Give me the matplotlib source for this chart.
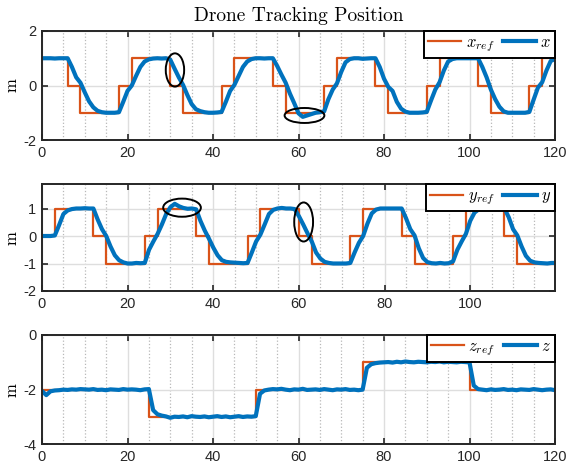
import numpy as np
import matplotlib
matplotlib.use("Agg")
import matplotlib.pyplot as plt
from matplotlib.patches import Ellipse

plt.rcParams['mathtext.fontset'] = 'cm'
plt.rcParams['font.family'] = ['Liberation Sans', 'DejaVu Sans']
plt.rcParams['axes.unicode_minus'] = False

# --- data ---
t = np.arange(0, 121)

# reference steps (time of change, level after it)
x_ref_t = [0, 6, 9, 18, 21, 30, 33, 42, 45, 54, 57, 66, 69, 78, 81, 90, 93, 102, 105, 114, 117, 120]
x_ref_v = [1, 0, -1, 0, 1, 0, -1, 0, 1, 0, -1, 0, 1, 0, -1, 0, 1, 0, -1, 0, 1, 1]

y_ref_t = [0, 3, 12, 15, 24, 27, 36, 39, 48, 51, 60, 63, 72, 75, 84, 87, 96, 99, 108, 111, 120]
y_ref_v = [0, 1, 0, -1, 0, 1, 0, -1, 0, 1, 0, -1, 0, 1, 0, -1, 0, 1, 0, -1, -1]

z_ref_t = [0, 25, 50, 75, 100, 120]
z_ref_v = [-2, -3, -2, -1, -2, -2]

# tracked positions, one value per second
x_pos = [1.0, 1.0, 1.0, 0.99, 1.0, 1.0, 1.0, 0.68, 0.3, 0.1,
         -0.25, -0.58, -0.8, -0.93, -0.98, -1.0, -1.0, -1.0, -0.98, -0.6,
         -0.2, 0.0, 0.35, 0.68, 0.88, 0.96, 0.99, 1.0, 0.99, 1.0,
         0.95, 0.62, 0.3, 0.02, -0.35, -0.68, -0.87, -0.94, -0.98, -1.0,
         -1.0, -0.99, -0.97, -0.6, -0.2, 0.02, 0.35, 0.68, 0.88, 0.97,
         1.0, 1.0, 0.99, 1.0, 1.0, 0.72, 0.4, 0.1, -0.3, -0.65,
         -1.02, -1.15, -1.1, -1.05, -1.0, -0.98, -0.95, -0.5, -0.15, 0.08,
         0.5, 0.85, 0.97, 1.0, 1.0, 0.98, 0.99, 1.0, 1.0, 0.68,
         0.25, -0.05, -0.2, -0.6, -0.85, -0.96, -1.0, -1.0, -1.0, -0.99,
         -0.97, -0.55, -0.15, 0.12, 0.55, 0.88, 0.97, 1.0, 1.0, 1.0,
         1.0, 1.0, 1.0, 0.68, 0.3, -0.15, -0.5, -0.78, -0.95, -1.0,
         -1.0, -1.0, -1.0, -1.0, -0.97, -0.52, -0.08, 0.12, 0.55, 0.9,
         0.97]

y_pos = [0.0, 0.0, 0.0, 0.02, 0.4, 0.8, 0.93, 0.98, 1.0, 1.0,
         1.01, 1.0, 1.0, 0.6, 0.25, 0.0, -0.38, -0.7, -0.88, -0.96,
         -1.0, -1.0, -0.98, -0.99, -0.98, -0.5, -0.2, 0.08, 0.42, 0.8,
         1.05, 1.17, 1.08, 1.02, 0.99, 1.0, 0.97, 0.55, 0.2, -0.1,
         -0.42, -0.7, -0.88, -0.94, -0.96, -0.97, -0.98, -0.99, -0.98, -0.6,
         -0.2, 0.05, 0.42, 0.8, 0.95, 1.0, 1.02, 1.0, 1.0, 0.98,
         0.72, 0.42, 0.1, -0.2, -0.6, -0.82, -0.94, -0.98, -1.0, -1.0,
         -1.0, -1.0, -0.98, -0.6, -0.25, 0.0, 0.45, 0.82, 0.96, 1.0,
         1.0, 1.0, 1.0, 1.0, 1.0, 0.65, 0.25, 0.02, -0.45, -0.8,
         -0.95, -0.99, -1.0, -0.98, -1.0, -0.99, -0.92, -0.5, -0.2, 0.08,
         0.55, 0.85, 0.97, 1.0, 1.0, 1.0, 1.0, 1.0, 1.0, 0.68,
         0.25, 0.02, -0.38, -0.72, -0.9, -0.96, -0.98, -0.99, -1.0, -0.98,
         -0.98]

z_pos = [-2.05, -2.2, -2.06, -2.03, -2.02, -2.0, -2.01, -1.99, -2.0, -1.98,
         -1.99, -2.0, -1.98, -2.01, -2.0, -2.02, -1.99, -2.0, -2.01, -1.98,
         -2.0, -1.99, -2.0, -2.02, -1.99, -1.98, -2.75, -2.9, -2.95, -2.98,
         -3.03, -2.99, -3.0, -2.98, -3.01, -2.97, -2.99, -3.0, -2.98, -3.01,
         -2.99, -2.97, -3.0, -2.98, -3.01, -2.99, -2.97, -3.0, -2.98, -2.99,
         -2.97, -2.15, -2.03, -2.0, -1.98, -1.99, -1.97, -2.0, -2.02, -1.99,
         -2.0, -1.97, -2.01, -2.0, -1.99, -2.01, -1.98, -2.0, -2.02, -1.99,
         -2.0, -1.98, -2.01, -2.0, -2.02, -2.0, -1.2, -1.07, -1.03, -1.01,
         -1.0, -0.99, -1.01, -0.98, -1.0, -0.97, -0.99, -1.0, -0.98, -0.99,
         -1.0, -0.98, -0.99, -0.97, -1.0, -0.98, -0.99, -1.0, -0.98, -0.99,
         -1.0, -1.85, -1.98, -2.0, -2.02, -1.99, -2.01, -2.0, -1.98, -2.01,
         -2.0, -2.02, -1.99, -2.0, -2.01, -1.98, -2.0, -2.02, -2.0, -1.99,
         -2.02]

# highlighted spots: (center x, center y, width, height)
ell_x = [(31.1, 0.57, 4.3, 1.22), (61.4, -1.1, 9.3, 0.55)]
ell_y = [(32.7, 1.03, 8.8, 0.66), (61.1, 0.51, 4.4, 1.42)]

x_ticks_full = [0, 20, 40, 60, 80, 100, 120]
x_ticks_short = [0, 20, 40, 60, 80, 100]

orange = '#D95319'
blue = '#0072BD'

fig = plt.figure(figsize=(5.67, 4.71), dpi=100)
W, H = 567.0, 471.0
boxes = [(42, 31, 555, 140), (42, 184.3, 555, 291), (42, 335, 555, 444.3)]

panels = [
    (x_ref_t, x_ref_v, x_pos, r'$x_{ref}$', r'$x$', (-2, 2), [-2, 0, 2], 120, x_ticks_full, ell_x),
    (y_ref_t, y_ref_v, y_pos, r'$y_{ref}$', r'$y$', (-2, 1.88), [-2, -1, 0, 1], 119.8, x_ticks_short, ell_y),
    (z_ref_t, z_ref_v, z_pos, r'$z_{ref}$', r'$z$', (-4, 0), [-4, -2, 0], 120, x_ticks_full, []),
]

axes = []
for (l, tp, r, b), (rt, rv, pos, lab_r, lab, ylim, yt, xmax, xt, ells) in zip(boxes, panels):
    ax = fig.add_axes([l / W, 1 - b / H, (r - l) / W, (b - tp) / H])
    ax.step(rt, rv, where='post', color=orange, lw=1.6, label=lab_r)
    ax.plot(t, pos, color=blue, lw=3.0, label=lab)
    for cx, cy, ew, eh in ells:
        ax.add_patch(Ellipse((cx, cy), ew, eh, fill=False, ec='black', lw=1.4, zorder=5))

    ax.set_xlim(0, xmax)
    ax.set_ylim(*ylim)
    ax.set_xticks(xt)
    ax.set_xticks([m for m in range(5, 120, 5) if m % 20], minor=True)
    ax.set_yticks(yt)
    ax.set_axisbelow(True)
    ax.grid(which='major', color='#dedede', lw=1.0, ls='-')
    ax.grid(which='minor', axis='x', color='#b8b8b8', lw=0.9, ls=':')
    ax.tick_params(which='major', direction='in', top=True, right=True,
                   length=4, width=1.2, labelsize=10.5, colors='#262626', pad=4)
    ax.tick_params(which='minor', length=0)
    for s in ax.spines.values():
        s.set_linewidth(1.4)
        s.set_color('#262626')
    ax.set_ylabel('m', fontfamily='cmr10', fontsize=12, labelpad=3)

    leg = ax.legend(loc='upper right', ncol=2, borderaxespad=0, fontsize=12,
                    handlelength=2.0, handletextpad=0.25, columnspacing=0.5,
                    fancybox=False, framealpha=1, edgecolor='black',
                    borderpad=0.25)
    leg.get_frame().set_linewidth(1.4)
    axes.append(ax)

axes[0].set_title('Drone Tracking Position', fontfamily='cmr10', fontsize=14, pad=7)

fig.savefig('out.png', dpi=100)
